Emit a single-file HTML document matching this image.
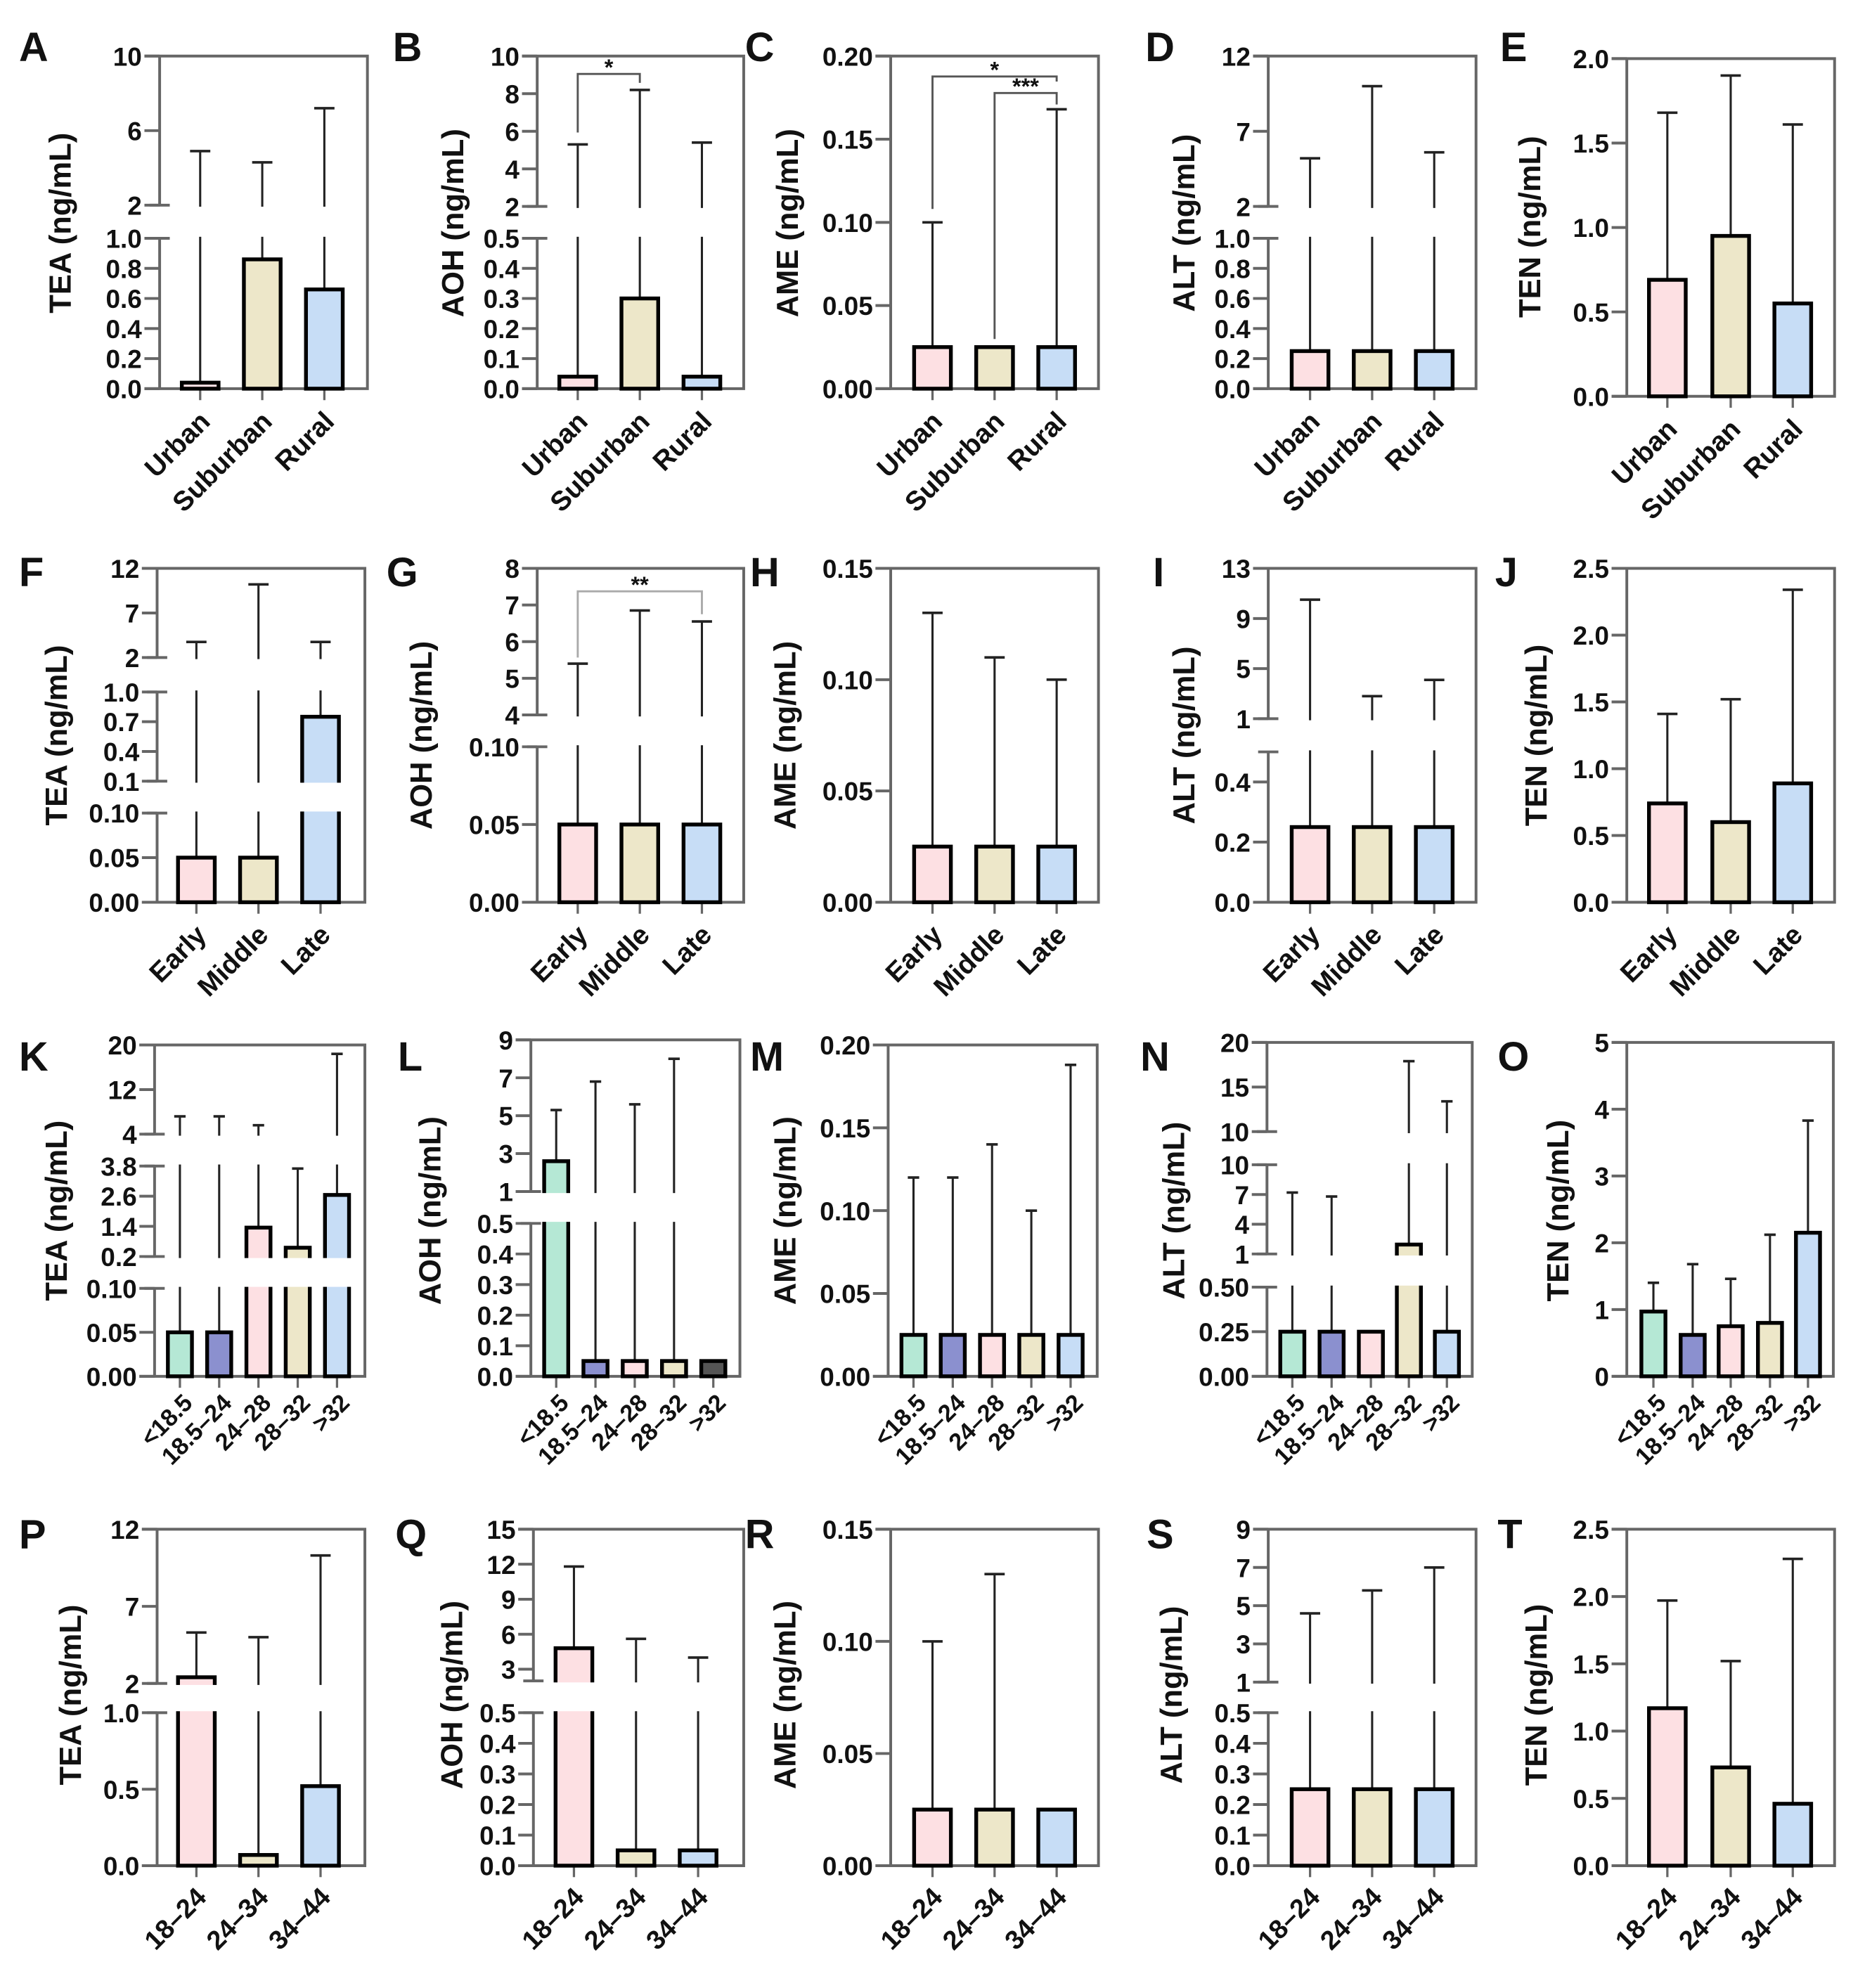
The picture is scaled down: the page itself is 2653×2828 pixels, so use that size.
<!DOCTYPE html>
<html><head><meta charset="utf-8"><title>Mycotoxin concentration panels</title>
<style>
html,body{margin:0;padding:0;background:#fff;}
svg{display:block;}
text{font-family:"Liberation Sans",Arial,sans-serif;font-weight:bold;fill:#111;}
</style></head>
<body>
<svg id="chart" xmlns="http://www.w3.org/2000/svg" width="2653" height="2828" viewBox="0 0 1472 1560" preserveAspectRatio="none"></svg>
<script>
// ---------- categories ----------
const CAT_AREA = ['Urban','Suburban','Rural'];
const CAT_STAGE = ['Early','Middle','Late'];
const CAT_BMI = ['<18.5','18.5\u201324','24\u201328','28\u201332','>32'];
const CAT_AGE = ['18\u201324','24\u201334','34\u201344'];
// ---------- series values (means) and error tops ----------
const A_means = [0.04, 0.86, 0.66];   const A_errs = [4.9, 4.3, 7.2];
const B_means = [0.04, 0.30, 0.04];   const B_errs = [5.3, 8.2, 5.4];
const C_means = [0.025, 0.025, 0.025];const C_errs = [0.10, null, 0.168];
const D_means = [0.25, 0.25, 0.25];   const D_errs = [5.2, 10.0, 5.6];
const E_means = [0.69, 0.95, 0.55];   const E_errs = [1.68, 1.90, 1.61];
const F_means = [0.05, 0.05, 0.75];   const F_errs = [3.75, 10.2, 3.75];
const G_means = [0.05, 0.05, 0.05];   const G_errs = [5.4, 6.85, 6.55];
const H_means = [0.025, 0.025, 0.025];const H_errs = [0.13, 0.11, 0.10];
const I_means = [0.25, 0.25, 0.25];   const I_errs = [10.5, 2.8, 4.1];
const J_means = [0.74, 0.60, 0.89];   const J_errs = [1.41, 1.52, 2.34];
const K_means = [0.05, 0.05, 1.35, 0.55, 2.65]; const K_errs = [7.2, 7.2, 5.6, 3.7, 18.4];
const L_means = [2.6, 0.05, 0.05, 0.05, 0.05];  const L_errs = [5.3, 6.8, 5.6, 8.0, null];
const M_means = [0.025, 0.025, 0.025, 0.025, 0.025]; const M_errs = [0.12, 0.12, 0.14, 0.10, 0.188];
const N_means = [0.25, 0.25, 0.25, 1.95, 0.25]; const N_errs = [7.2, 6.8, null, 17.9, 13.4];
const O_means = [0.97, 0.62, 0.75, 0.80, 2.15]; const O_errs = [1.40, 1.68, 1.46, 2.12, 3.83];
const P_means = [2.4, 0.07, 0.52];    const P_errs = [5.3, 5.0, 10.3];
const Q_means = [4.8, 0.05, 0.05];    const Q_errs = [11.8, 5.6, 4.0];
const R_means = [0.025, 0.025, 0.025];const R_errs = [0.10, 0.13, null];
const S_means = [0.25, 0.25, 0.25];   const S_errs = [4.6, 5.8, 7.0];
const T_means = [1.17, 0.73, 0.46];   const T_errs = [1.97, 1.52, 2.28];

const COL3 = ['#fde0e3','#ede7c9','#c7ddf6'];
const COL5 = ['#b5e8d5','#8b90cf','#fde0e3','#ede7c9','#c7ddf6'];
const COL5L = ['#b5e8d5','#8b90cf','#fde0e3','#ede7c9','#555555'];

function S(lo,hi,y0,y1,ticks,labels){return {lo:lo,hi:hi,y0:y0,y1:y1,ticks:ticks,labels:labels};}
const X3 = {c1:[158,207,256], c2:[456,505,554], c3:[736,785,834], c4:[1034,1083,1132], c5:[1316,1366,1415]};

const panels = [
 {id:'A',m:A_means,e:A_errs,cats:CAT_AREA,col:COL3,axis:126,right:290,xs:X3.c1,title:'TEA (ng/mL)',tx:48,ty:175,lx:15,ly:48,row:1,
  segs:[S(0,1,305,187,[0,0.2,0.4,0.6,0.8,1.0],['0.0','0.2','0.4','0.6','0.8','1.0']),S(2,10,161,44,[2,6,10],['2','6','10'])]},
 {id:'B',m:B_means,e:B_errs,cats:CAT_AREA,col:COL3,axis:424,right:587,xs:X3.c2,title:'AOH (ng/mL)',tx:358,ty:175,lx:310,ly:48,row:1,
  segs:[S(0,0.5,305,187,[0,0.1,0.2,0.3,0.4,0.5],['0.0','0.1','0.2','0.3','0.4','0.5']),S(2,10,162,44,[2,4,6,8,10],['2','4','6','8','10'])],
  brackets:[[456,505,58,104,65,'*','#555']]},
 {id:'C',m:C_means,e:C_errs,cats:CAT_AREA,col:COL3,axis:703,right:867,xs:X3.c3,title:'AME (ng/mL)',tx:622,ty:175,lx:588,ly:48,row:1,
  segs:[S(0,0.2,305,44,[0,0.05,0.10,0.15,0.20],['0.00','0.05','0.10','0.15','0.20'])],
  brackets:[[736,834,60,164,64,'*','#555'],[785,834,73,266,82,'***','#555']]},
 {id:'D',m:D_means,e:D_errs,cats:CAT_AREA,col:COL3,axis:1001,right:1165,xs:X3.c4,title:'ALT (ng/mL)',tx:935,ty:175,lx:904,ly:48,row:1,
  segs:[S(0,1,305,187,[0,0.2,0.4,0.6,0.8,1.0],['0.0','0.2','0.4','0.6','0.8','1.0']),S(2,12,162,44,[2,7,12],['2','7','12'])]},
 {id:'E',m:E_means,e:E_errs,cats:CAT_AREA,col:COL3,axis:1284,right:1448,xs:X3.c5,title:'TEN (ng/mL)',tx:1208,ty:178,lx:1184,ly:48,row:1,
  segs:[S(0,2,311,46,[0,0.5,1.0,1.5,2.0],['0.0','0.5','1.0','1.5','2.0'])]},

 {id:'F',m:F_means,e:F_errs,cats:CAT_STAGE,col:COL3,axis:124,right:288,xs:[155,204,253],title:'TEA (ng/mL)',tx:45,ty:577,lx:15,ly:460,row:2,
  segs:[S(0,0.1,708,638,[0,0.05,0.10],['0.00','0.05','0.10']),S(0.1,1.0,613,543,[0.1,0.4,0.7,1.0],['0.1','0.4','0.7','1.0']),S(2,12,516,446,[2,7,12],['2','7','12'])]},
 {id:'G',m:G_means,e:G_errs,cats:CAT_STAGE,col:COL3,axis:424,right:587,xs:X3.c2,title:'AOH (ng/mL)',tx:333,ty:577,lx:305,ly:460,row:2,
  segs:[S(0,0.1,708,586,[0,0.05,0.10],['0.00','0.05','0.10']),S(4,8,561,446,[4,5,6,7,8],['4','5','6','7','8'])],
  brackets:[[456,554,464,516,482,'**','#aaa']]},
 {id:'H',m:H_means,e:H_errs,cats:CAT_STAGE,col:COL3,axis:703,right:867,xs:X3.c3,title:'AME (ng/mL)',tx:620,ty:577,lx:592,ly:460,row:2,
  segs:[S(0,0.15,708,446,[0,0.05,0.10,0.15],['0.00','0.05','0.10','0.15'])]},
 {id:'I',m:I_means,e:I_errs,cats:CAT_STAGE,col:COL3,axis:1001,right:1165,xs:X3.c4,title:'ALT (ng/mL)',tx:935,ty:577,lx:910,ly:460,row:2,
  segs:[S(0,0.5,708,590,[0,0.2,0.4],['0.0','0.2','0.4']),S(1,13,564,446,[1,5,9,13],['1','5','9','13'])]},
 {id:'J',m:J_means,e:J_errs,cats:CAT_STAGE,col:COL3,axis:1284,right:1448,xs:X3.c5,title:'TEN (ng/mL)',tx:1213,ty:577,lx:1180,ly:460,row:2,
  segs:[S(0,2.5,708,446,[0,0.5,1.0,1.5,2.0,2.5],['0.0','0.5','1.0','1.5','2.0','2.5'])]},

 {id:'K',m:K_means,e:K_errs,cats:CAT_BMI,col:COL5,axis:122,right:288,xs:[142,173,204,235,266],title:'TEA (ng/mL)',tx:45,ty:950,lx:15,ly:840,row:3,
  segs:[S(0,0.1,1080,1011,[0,0.05,0.10],['0.00','0.05','0.10']),S(0.2,3.8,986,915,[0.2,1.4,2.6,3.8],['0.2','1.4','2.6','3.8']),S(4,20,890,820,[4,12,20],['4','12','20'])]},
 {id:'L',m:L_means,e:L_errs,cats:CAT_BMI,col:COL5L,axis:419,right:584,xs:[439,470,501,532,563],title:'AOH (ng/mL)',tx:340,ty:950,lx:314,ly:840,row:3,
  segs:[S(0,0.5,1080,960,[0,0.1,0.2,0.3,0.4,0.5],['0.0','0.1','0.2','0.3','0.4','0.5']),S(1,9,935,816,[1,3,5,7,9],['1','3','5','7','9'])]},
 {id:'M',m:M_means,e:M_errs,cats:CAT_BMI,col:COL5,axis:701,right:866,xs:[721,752,783,814,845],title:'AME (ng/mL)',tx:620,ty:950,lx:592,ly:840,row:3,
  segs:[S(0,0.2,1080,820,[0,0.05,0.10,0.15,0.20],['0.00','0.05','0.10','0.15','0.20'])]},
 {id:'N',m:N_means,e:N_errs,cats:CAT_BMI,col:COL5,axis:1000,right:1162,xs:[1020,1051,1082,1112,1142],title:'ALT (ng/mL)',tx:927,ty:950,lx:900,ly:840,row:3,
  segs:[S(0,0.5,1080,1010,[0,0.25,0.50],['0.00','0.25','0.50']),S(1,10,984,914,[1,4,7,10],['1','4','7','10']),S(10,20,888,818,[10,15,20],['10','15','20'])]},
 {id:'O',m:O_means,e:O_errs,cats:CAT_BMI,col:COL5,axis:1284,right:1447,xs:[1305,1336,1366,1397,1427],title:'TEN (ng/mL)',tx:1230,ty:950,lx:1182,ly:840,row:3,
  segs:[S(0,5,1080,818,[0,1,2,3,4,5],['0','1','2','3','4','5'])]},

 {id:'P',m:P_means,e:P_errs,cats:CAT_AGE,col:COL3,axis:124,right:288,xs:[155,204,253],title:'TEA (ng/mL)',tx:56,ty:1330,lx:15,ly:1215,row:4,
  segs:[S(0,1,1464,1344,[0,0.5,1.0],['0.0','0.5','1.0']),S(2,12,1321,1200,[2,7,12],['2','7','12'])]},
 {id:'Q',m:Q_means,e:Q_errs,cats:CAT_AGE,col:COL3,axis:421,right:587,xs:[453,502,551],title:'AOH (ng/mL)',tx:357,ty:1330,lx:312,ly:1215,row:4,
  segs:[S(0,0.5,1464,1344,[0,0.1,0.2,0.3,0.4,0.5],['0.0','0.1','0.2','0.3','0.4','0.5']),S(2,15,1319,1200,[3,6,9,12,15],['3','6','9','12','15'])]},
 {id:'R',m:R_means,e:R_errs,cats:CAT_AGE,col:COL3,axis:703,right:867,xs:X3.c3,title:'AME (ng/mL)',tx:620,ty:1330,lx:588,ly:1215,row:4,
  segs:[S(0,0.15,1464,1200,[0,0.05,0.10,0.15],['0.00','0.05','0.10','0.15'])]},
 {id:'S',m:S_means,e:S_errs,cats:CAT_AGE,col:COL3,axis:1001,right:1165,xs:X3.c4,title:'ALT (ng/mL)',tx:925,ty:1330,lx:905,ly:1215,row:4,
  segs:[S(0,0.5,1464,1344,[0,0.1,0.2,0.3,0.4,0.5],['0.0','0.1','0.2','0.3','0.4','0.5']),S(1,9,1320,1200,[1,3,5,7,9],['1','3','5','7','9'])]},
 {id:'T',m:T_means,e:T_errs,cats:CAT_AGE,col:COL3,axis:1284,right:1448,xs:X3.c5,title:'TEN (ng/mL)',tx:1213,ty:1330,lx:1182,ly:1215,row:4,
  segs:[S(0,2.5,1464,1200,[0,0.5,1.0,1.5,2.0,2.5],['0.0','0.5','1.0','1.5','2.0','2.5'])]}
];

const NS = 'http://www.w3.org/2000/svg';
const svg = document.getElementById('chart');
function mk(tag, attrs, parent){
  const el = document.createElementNS(NS, tag);
  for (const k in attrs) el.setAttribute(k, attrs[k]);
  (parent || svg).appendChild(el);
  return el;
}
function yScale(segs, v){
  for (let i = 0; i < segs.length; i++){
    const s = segs[i];
    if (v <= s.hi || i === segs.length - 1){
      return s.y0 + (v - s.lo) / (s.hi - s.lo) * (s.y1 - s.y0);
    }
  }
}
const AX = '#666', ERR = '#222';

panels.forEach(function(p){
  const g = mk('g', {});
  
  
  const segs = p.segs;
  const base = segs[0].y0;
  const top = segs[segs.length - 1].y1;
  const five = p.xs.length === 5;
  const bw = five ? 19 : 29, cw = five ? 9 : 16;
  const tl = p.axis - 12;

  const fr = mk('path', {d:'M'+tl+' '+top+' H'+p.right+' V'+base+' H'+tl, fill:'none', stroke:AX, 'stroke-width':2.2}, g);
  
  

  p.xs.forEach(function(x){
    const t = mk('line', {x1:x, x2:x, y1:base, y2:base+9, stroke:AX, 'stroke-width':1.8}, g);
    
    
  });

  p.m.forEach(function(v, i){
    const x = p.xs[i];
    const yv = yScale(segs, v);
    if (p.e[i] !== null){
      const ye = yScale(segs, p.e[i]);
      const el = mk('line', {x1:x, x2:x, y1:yv, y2:ye, stroke:ERR, 'stroke-width':1.7}, g);
      
      
      const cap = mk('line', {x1:x-cw/2, x2:x+cw/2, y1:ye, y2:ye, stroke:ERR, 'stroke-width':2}, g);
      
      
    }
    const r = mk('rect', {x:x-bw/2, y:yv, width:bw, height:Math.max(base-yv,0.5), fill:p.col[i], stroke:'#000', 'stroke-width':3}, g);
    
    
  });

  (p.brackets || []).forEach(function(b){
    const br = mk('path', {d:'M'+b[0]+' '+b[3]+' V'+b[2]+' H'+b[1]+' V'+b[4], fill:'none', stroke:b[6], 'stroke-width':1.6}, g);
    
    
    const st = mk('text', {x:(b[0]+b[1])/2, y:b[2]+1, 'text-anchor':'middle', 'font-size':18}, g);
    st.textContent = b[5];
    
    
  });

  for (let k = 0; k < segs.length - 1; k++){
    const yTopLower = segs[k].y1, yBotUpper = segs[k+1].y0;
    const gap = mk('rect', {x:tl-2, y:yBotUpper+1.2, width:(p.right-1.3)-(tl-2), height:(yTopLower-1.2)-(yBotUpper+1.2), fill:'#fff'}, g);
    
    
  }

  segs.forEach(function(s, k){
    const ax = mk('line', {x1:p.axis, x2:p.axis, y1:s.y0, y2:s.y1, stroke:AX, 'stroke-width':2.2}, g);
    
    
    if (k > 0){
      const c1 = mk('line', {x1:p.axis-8, x2:p.axis+8, y1:s.y0, y2:s.y0, stroke:AX, 'stroke-width':2.2}, g);
      
      
    }
    if (k < segs.length - 1){
      const c2 = mk('line', {x1:p.axis-8, x2:p.axis+8, y1:s.y1, y2:s.y1, stroke:AX, 'stroke-width':2.2}, g);
      
      
    }
    s.ticks.forEach(function(tv, j){
      const y = s.y0 + (tv - s.lo)/(s.hi - s.lo)*(s.y1 - s.y0);
      const t = mk('line', {x1:tl, x2:p.axis, y1:y, y2:y, stroke:AX, 'stroke-width':2.2}, g);
      
      
      const lb = mk('text', {x:p.axis-14, y:y+7.5, 'text-anchor':'end', 'font-size':20.5}, g);
      lb.textContent = s.labels[j];
      
      
    });
  });

  p.cats.forEach(function(c, i){
    let ox = 9, oy = 27, fs = 21.5;
    if (p.row === 3){ ox = 11; oy = 22; fs = 19; }
    if (p.row === 4){ ox = 9; oy = 26; fs = 21; }
    const x = p.xs[i] + ox, y = base + oy;
    const t = mk('text', {x:x, y:y, 'text-anchor':'end', 'font-size':fs, transform:'rotate(-45 '+x+' '+y+')'}, g);
    t.textContent = c;
    
    
  });

  const yt = mk('text', {x:p.tx, y:p.ty, 'text-anchor':'middle', 'font-size':24, transform:'rotate(-90 '+p.tx+' '+p.ty+')', 'dominant-baseline':'central'}, g);
  yt.textContent = p.title;
  
  

  const pl = mk('text', {x:p.lx, y:p.ly, 'font-size':32}, g);
  pl.textContent = p.id;
  
  
});
</script>
</body></html>
